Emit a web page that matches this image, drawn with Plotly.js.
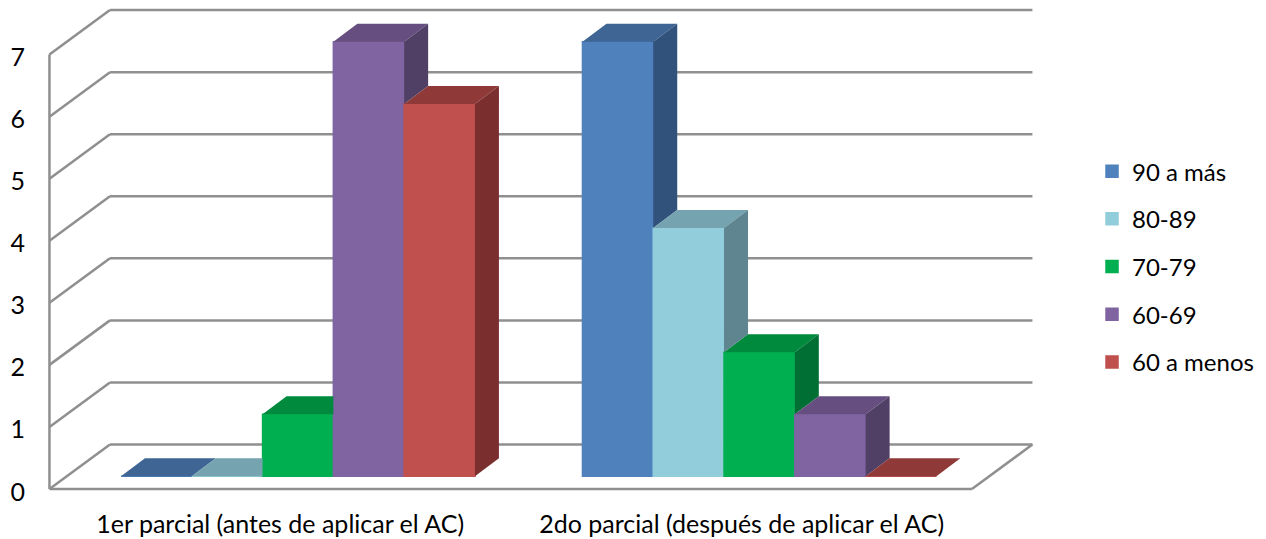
<!DOCTYPE html>
<html><head><meta charset="utf-8">
<script src="https://cdn.plot.ly/plotly-3.0.1.min.js"></script>
<style>html,body{margin:0;padding:0;background:#fff}</style>
</head><body><div id="chart" style="width:1266px;height:539px"></div>
<script>
const categories = ["1er parcial (antes de aplicar el AC)", "2do parcial (después de aplicar el AC)"];
const seriesNames = ["90 a más", "80-89", "70-79", "60-69", "60 a menos"];
const s90 = [0, 7];
const s80 = [0, 4];
const s70 = [1, 2];
const s60 = [7, 1];
const s60m = [6, 0];
const frontColors = ["#4f81bd", "#92cddc", "#00b050", "#8064a2", "#c0504d"];
const topColors = ["#3f6594", "#75a3b0", "#008a3e", "#664f80", "#8f3a38"];
const sideColors = ["#31527a", "#5f8590", "#006f33", "#514065", "#7a2f2e"];
const yTicks = [0, 1, 2, 3, 4, 5, 6, 7];

const allSeries = [s90, s80, s70, s60, s60m];
const groups = categories.map((_, g) => g);
const bargap = 0.233, barW = (1 - bargap) / 5;
// oblique projection of the depth axis, in axis units
const barDx = 0.052, barDy = 0.29;
const wallL = -0.5385, wallR = 1.4605, wallDx = 0.1311, wallDy = 0.717, wallFront = -0.205;
const tickShiftY = -0.25, tickShiftX = -0.0385;

const traces = [];
allSeries.forEach((vals, i) => {
  traces.push({type: "bar", name: seriesNames[i], x: groups, y: vals, legendgroup: seriesNames[i],
    marker: {color: frontColors[i], line: {color: frontColors[i], width: 1.5}}, hoverinfo: "x+y+name"});
});
allSeries.forEach((vals, i) => {
  const tx = [], ty = [], sx = [], sy = [];
  groups.forEach(g => {
    const x0 = g - (1 - bargap) / 2 + i * barW, x1 = x0 + barW, v = vals[g];
    const next = i < 4 ? allSeries[i + 1][g] : 0;
    const backR = next > v ? x1 : x1 + barDx;
    tx.push(x0, x0 + barDx, backR, x1, x0, null);
    ty.push(v, v + barDy, v + barDy, v, v, null);
    if (next < v) {
      sx.push(x1, x1 + barDx, x1 + barDx, x1, x1, null);
      sy.push(v, v + barDy, next + barDy, next, v, null);
    }
  });
  traces.push({type: "scatter", mode: "lines", x: tx, y: ty, fill: "toself", fillcolor: topColors[i],
    line: {width: 0, color: topColors[i]}, showlegend: false, hoverinfo: "skip"});
  if (sx.length) traces.push({type: "scatter", mode: "lines", x: sx, y: sy, fill: "toself", fillcolor: sideColors[i],
    line: {width: 0, color: sideColors[i]}, showlegend: false, hoverinfo: "skip"});
});

const wallLine = {color: "#8f8f8f", width: 2.5};
const seg = (x0, y0, x1, y1) => ({type: "line", layer: "below", xref: "x", yref: "y", x0, y0, x1, y1, line: wallLine});
const shapes = [];
yTicks.forEach(v => {
  const f = v + wallFront;
  shapes.push(seg(wallL, f, wallL + wallDx, f + wallDy));
  shapes.push(seg(wallL + wallDx, f + wallDy, wallR + wallDx, f + wallDy));
});
const wallTop = yTicks[yTicks.length - 1] + wallFront;
shapes.push(seg(wallL, wallFront, wallL, wallTop));
shapes.push(seg(wallL, wallFront, wallR, wallFront));
shapes.push(seg(wallR, wallFront, wallR + wallDx, wallFront + wallDy));

const tickFont = {family: "Lato, Carlito, sans-serif", size: 25, color: "#000"};
const legendFont = {family: "Lato, Carlito, sans-serif", size: 24, color: "#000"};
Plotly.newPlot("chart", traces, {
  width: 1266, height: 539,
  margin: {l: 28, r: 226, t: 4, b: 32, pad: 0},
  paper_bgcolor: "#fff", plot_bgcolor: "#fff",
  font: tickFont, barmode: "group", bargap, bargroupgap: 0, showlegend: true,
  xaxis: {range: [-0.585, 1.608], tickmode: "array", tickvals: groups.map(g => g + tickShiftX), ticktext: categories,
    showgrid: false, zeroline: false, showline: false, ticks: "", tickangle: 0, tickfont: tickFont, automargin: false},
  yaxis: {range: [-0.495, 7.61], tickmode: "array", tickvals: yTicks.map(v => v + tickShiftY), ticktext: yTicks.map(String),
    showgrid: false, zeroline: false, showline: false, ticks: "", tickfont: tickFont, automargin: false, ticklabelstandoff: 2},
  legend: {x: 1.0514, xanchor: "left", y: 0.478, yanchor: "middle", font: legendFont, tracegroupgap: 13.5,
    bgcolor: "rgba(0,0,0,0)", itemclick: false, itemdoubleclick: false},
  shapes
}, {displayModeBar: false, staticPlot: true});
</script></body></html>
